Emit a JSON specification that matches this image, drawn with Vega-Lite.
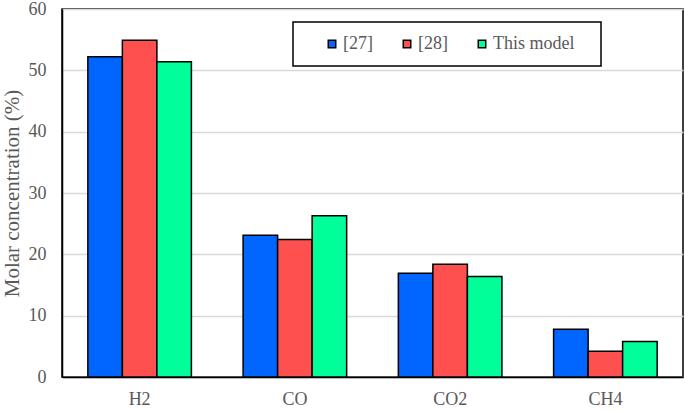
{
  "$schema": "https://vega.github.io/schema/vega-lite/v6.json",
  "width": 621,
  "height": 368,
  "autosize": {"type": "none"},
  "padding": {"left": 62, "top": 9, "right": 2, "bottom": 34},
  "background": "white",
  "config": {
    "font": "Times New Roman, Liberation Serif, serif",
    "view": {"stroke": "black", "strokeWidth": 1.5},
    "axis": {"labelFont": "Times New Roman, Liberation Serif, serif", "titleFont": "Times New Roman, Liberation Serif, serif", "labelColor": "#595959", "titleColor": "#595959", "labelFontSize": 18, "titleFontSize": 21, "titleFontWeight": "normal"},
    "legend": {"labelFont": "Times New Roman, Liberation Serif, serif"}
  },
  "data": {
    "values": [
      {"gas": "H2", "source": "[27]", "value": 52.2},
      {"gas": "H2", "source": "[28]", "value": 54.9},
      {"gas": "H2", "source": "This model", "value": 51.4},
      {"gas": "CO", "source": "[27]", "value": 23.1},
      {"gas": "CO", "source": "[28]", "value": 22.4},
      {"gas": "CO", "source": "This model", "value": 26.3},
      {"gas": "CO2", "source": "[27]", "value": 16.9},
      {"gas": "CO2", "source": "[28]", "value": 18.4},
      {"gas": "CO2", "source": "This model", "value": 16.4},
      {"gas": "CH4", "source": "[27]", "value": 7.8},
      {"gas": "CH4", "source": "[28]", "value": 4.2},
      {"gas": "CH4", "source": "This model", "value": 5.8}
    ]
  },
  "mark": {"type": "bar", "stroke": "black", "strokeWidth": 1.5},
  "encoding": {
    "x": {
      "field": "gas", "type": "nominal", "sort": ["H2", "CO", "CO2", "CH4"],
      "scale": {"paddingInner": 0.333, "paddingOuter": 0.1665},
      "axis": {"title": null, "labelAngle": 0, "ticks": false, "domainColor": "black", "domainWidth": 1.5, "labelPadding": 13}
    },
    "xOffset": {"field": "source", "type": "nominal", "sort": ["[27]", "[28]", "This model"], "scale": {"paddingInner": 0, "paddingOuter": 0}},
    "y": {
      "field": "value", "type": "quantitative",
      "scale": {"domain": [0, 60], "nice": false},
      "axis": {"title": "Molar concentration (%)", "values": [0, 10, 20, 30, 40, 50, 60], "ticks": false, "labelPadding": 16, "titlePadding": 6, "domainColor": "black", "domainWidth": 1.5, "gridColor": "#D9D9D9", "gridWidth": 1.5}
    },
    "color": {
      "field": "source", "type": "nominal", "sort": ["[27]", "[28]", "This model"],
      "scale": {"domain": ["[27]", "[28]", "This model"], "range": ["#0066FF", "#FF5050", "#00FF99"]},
      "legend": {
        "title": " ", "titleOrient": "right", "titlePadding": 14, "titleFontSize": 4,
        "orient": "none", "direction": "horizontal",
        "legendX": 231, "legendY": 13,
        "padding": 13, "strokeColor": "black",
        "symbolType": "square", "symbolSize": 56, "symbolStrokeColor": "black", "symbolStrokeWidth": 1.5,
        "symbolOffset": 17,
        "labelFont": "Times New Roman, Liberation Serif, serif", "labelFontSize": 18, "labelColor": "#595959", "labelOffset": 2,
        "columnPadding": 8,
        "encode": {"legend": {"update": {"strokeWidth": {"value": 1.5}}}}
      }
    }
  }
}
